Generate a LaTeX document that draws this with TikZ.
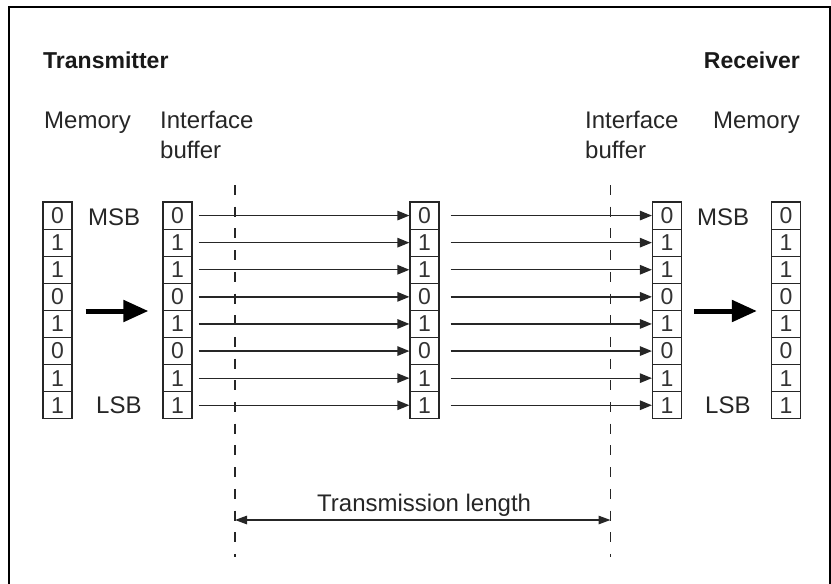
\documentclass[tikz,border=0pt]{standalone}
\usepackage{fontspec}
\setmainfont{Liberation Sans}
\usetikzlibrary{arrows.meta}
\begin{document}
\begin{tikzpicture}[x=1pt,y=-1pt,
 cell/.style={draw=black!85,line width=1.2pt,minimum width=29pt,minimum height=27.1pt,inner sep=0pt,font=\fontsize{23}{23}\selectfont,text=black!80},
 lbl/.style={inner sep=0pt,font=\fontsize{24}{24}\selectfont,text=black!85},
 hdr/.style={inner sep=0pt,font=\fontsize{23}{23}\selectfont\bfseries,text=black!90},
 sig/.style={draw=black!85,line width=1.3pt,-{Triangle[length=12pt,width=9.5pt]}},
 bigarrow/.style={draw=black,line width=5pt,-{Triangle[length=25pt,width=21pt]}},
 dimarrow/.style={draw=black!85,line width=1.3pt,{Triangle[length=12pt,width=8.5pt]}-{Triangle[length=12pt,width=8.5pt]}},
 dashline/.style={draw=black!85,line width=1.4pt,dash pattern=on 10pt off 11.7pt},
]
\useasboundingbox (0,0) rectangle (831,584);
\draw[line width=2.5pt] (9,584) -- (9,7) -- (830,7) -- (830,584);

% headers and labels
\node[hdr,anchor=base west] (tx) at (43,68) {Transmitter};
\node[hdr,anchor=base east] (rx) at (800,68) {Receiver};
\node[lbl,anchor=base west] (memL) at (44,128) {Memory};
\node[lbl,anchor=base west] (ifL) at (160,128) {Interface};
\node[lbl,anchor=base west] (bufL) at (160,158) {buffer};
\node[lbl,anchor=base west] (ifR) at (585,128) {Interface};
\node[lbl,anchor=base west] (bufR) at (585,158) {buffer};
\node[lbl,anchor=base east] (memR) at (800,128) {Memory};
\node[lbl,anchor=base west] (msbL) at (88,225) {MSB};
\node[lbl,anchor=base west] (lsbL) at (96,413) {LSB};
\node[lbl,anchor=base west] (msbR) at (697,225) {MSB};
\node[lbl,anchor=base west] (lsbR) at (705,413) {LSB};

% registers
\foreach \r/\x in {ma/57.5, ba/177.5, mid/424.5, bb/667, mb/786}{
  \foreach \v [count=\i] in {0,1,1,0,1,0,1,1}{
    \node[cell] (\r\i) at (\x,{202+27.1*(\i-0.5)}) {\v};
  }
}

% signal lines
\foreach \i in {1,...,8}{
  \draw[sig,shorten <=6pt] (ba\i.east) -- (mid\i.west);
  \draw[sig,shorten <=11pt] (mid\i.east) -- (bb\i.west);
}

% big arrows
\draw[bigarrow,shorten <=13pt,shorten >=14pt] (ma4.south east) -- (ba4.south west);
\draw[bigarrow,shorten <=12pt,shorten >=14pt] (bb4.south east) -- (mb4.south west);

% dashed boundaries
\coordinate (d1t) at (235,185);
\coordinate (d1b) at (235,557);
\coordinate (d2t) at (610.5,185);
\coordinate (d2b) at (610.5,557);
\draw[dashline] (d1t) -- (d1b);
\draw[dashline] (d2t) -- (d2b);

% transmission length
\coordinate (tl) at (235,520);
\coordinate (tr) at (610.5,520);
\draw[dimarrow] (tl) -- (tr);
\node[lbl,anchor=base west] (tlen) at (317,511) {Transmission length};
\end{tikzpicture}
\end{document}
